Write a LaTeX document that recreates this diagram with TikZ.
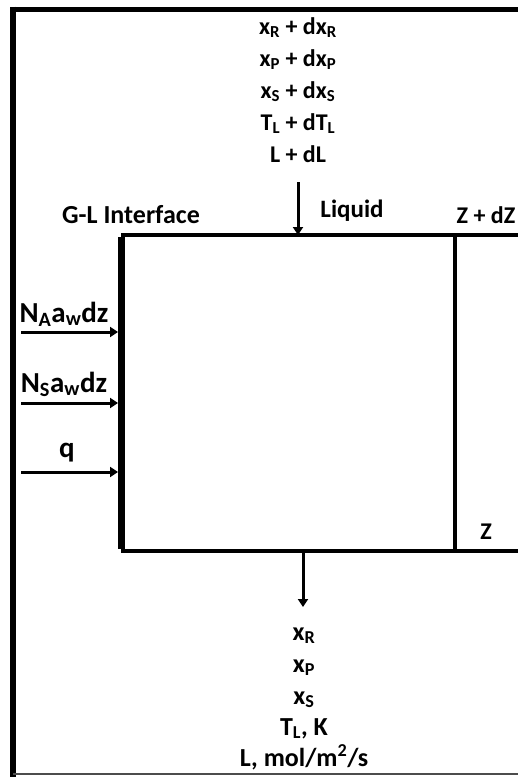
\documentclass[tikz,border=0pt]{standalone}
\usepackage{fontspec}
\setmainfont{Carlito}
\usetikzlibrary{arrows.meta}
\newcommand{\sbs}[1]{\textsubscript{#1}}
\begin{document}
\begin{tikzpicture}[x=1pt,y=-1pt,
  lbl/.style={font=\bfseries\fontsize{#1}{#1}\selectfont, inner sep=0pt, anchor=base},
  lbl/.default=25,
  flow/.style={line width=3pt, -{Triangle[length=8pt,width=10pt]}},
  thickline/.style={line width=4pt},
]
\useasboundingbox (0,0) rectangle (518,777);
% outer frame
\draw[line width=5pt] (10.5,9) -- (518,9);
\draw[line width=6pt] (13,6.5) -- (13,777);
\draw[line width=1.5pt, black!70] (13,774) -- (518,774);
% control volume
\coordinate (tl) at (121,235);
\coordinate (bl) at (121,551);
\coordinate (tr) at (455,235);
\coordinate (br) at (455,551);
\coordinate (te) at (518,235);
\coordinate (be) at (518,551);
\draw[thickline] (tl) -- (te);
\draw[thickline] (bl) -- (be);
\draw[thickline] (tr) -- (br);
\draw[line width=7pt] ([yshift=-2pt]tl) -- ([yshift=2pt]bl);
% top texts
\node[lbl=24] (t1) at (298,34) {x\sbs{R} + dx\sbs{R}};
\node[lbl=24] (t2) at (298,66) {x\sbs{P} + dx\sbs{P}};
\node[lbl=24] (t3) at (298,98) {x\sbs{S} + dx\sbs{S}};
\node[lbl=24] (t4) at (298,130) {T\sbs{L} + dT\sbs{L}};
\node[lbl=24] (t5) at (298,162) {L + dL};
\coordinate (inS) at (298,182);
\coordinate (inE) at (298,235);
\draw[flow] (inS) -- (inE);
\node[lbl=25] (liq) at (352,217) {Liquid};
\node[lbl=26] (gl) at (131,223) {G-L Interface};
\node[lbl=24] (zdz) at (486,223) {Z + dZ};
\node[lbl=24] (z) at (486,539) {Z};
% left fluxes
\node[lbl=29] (na) at (64,322) {N\sbs{A}a\sbs{w}dz};
\node[lbl=29] (ns) at (64,392) {N\sbs{S}a\sbs{w}dz};
\node[lbl=29] (q) at (67,457) {q};
\coordinate (a1s) at (21,332); \coordinate (a1e) at (118,332);
\coordinate (a2s) at (21,403); \coordinate (a2e) at (118,403);
\coordinate (a3s) at (21,472); \coordinate (a3e) at (118,472);
\draw[flow] (a1s) -- (a1e);
\draw[flow] (a2s) -- (a2e);
\draw[flow] (a3s) -- (a3e);
% bottom outlet
\coordinate (outS) at (303,551);
\coordinate (outE) at (303,607);
\draw[flow] (outS) -- (outE);
\node[lbl=26] (b1) at (304,640) {x\sbs{R}};
\node[lbl=26] (b2) at (304,672) {x\sbs{P}};
\node[lbl=26] (b3) at (304,704) {x\sbs{S}};
\node[lbl=26] (b4) at (304,735) {T\sbs{L}, K};
\node[lbl=26] (b5) at (304,766) {L, mol/m\textsuperscript{2}/s};
\end{tikzpicture}
\end{document}
